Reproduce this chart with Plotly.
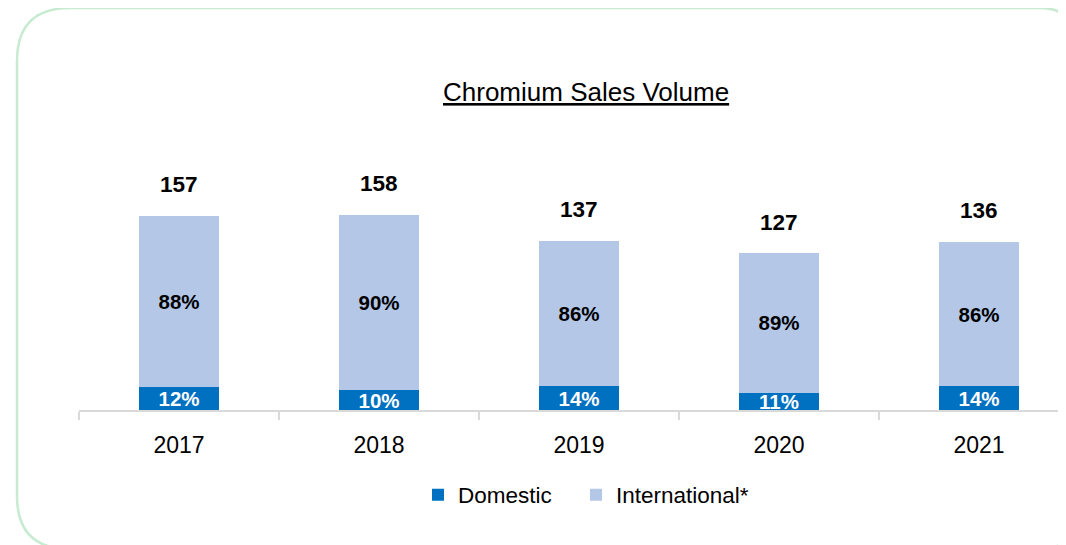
import plotly.graph_objects as go

years = ["2017", "2018", "2019", "2020", "2021"]
totals = [157, 158, 137, 127, 136]
domestic_pct = [12, 10, 14, 11, 14]
international_pct = [88, 90, 86, 89, 86]

domestic = [t * p / 100 for t, p in zip(totals, domestic_pct)]
international = [t * p / 100 for t, p in zip(totals, international_pct)]

# the page body adds an 8px offset; work in screen pixels and convert
OFF = 8
W, H = 1066 - OFF, 545 - OFF
PL, PR, PT, PB = 79, 1058, 130, 410  # plot area in screen pixels
ML, MR, MT, MB = PL - OFF, W - (PR - OFF), PT - OFF, H - (PB - OFF)
PW, PH = PR - PL, PB - PT

def px(x):
    return (x - PL) / PW

def py(y):
    return (PB - y) / PH

FONT = "Liberation Sans Narrow, Arial Narrow, Liberation Sans, Arial, sans-serif"
DARK = "#0070C0"
LIGHT = "#B4C7E7"

fig = go.Figure()
fig.add_trace(go.Bar(
    x=years, y=domestic, name="Domestic", marker=dict(color=DARK, line=dict(width=0)),
    text=[f"{p}%" for p in domestic_pct], textposition="inside", insidetextanchor="middle",
    textangle=0, constraintext="none", cliponaxis=True, legend="legend",
    textfont=dict(family=FONT, size=20.5, color="white", weight="bold"),
))
fig.add_trace(go.Bar(
    x=years, y=international, name="International*", marker=dict(color=LIGHT, line=dict(width=0)),
    text=[f"{p}%" for p in international_pct], textposition="inside", insidetextanchor="middle",
    textangle=0, constraintext="none", legend="legend2",
    textfont=dict(family=FONT, size=20.5, color="black", weight="bold"),
))

for i, t in enumerate(totals):
    fig.add_annotation(x=i, y=t, xref="x", yref="y", text=f"<b>{t}</b>", showarrow=False,
                       yanchor="middle", yshift=31,
                       font=dict(family=FONT, size=22.5, color="black"))

fig.add_annotation(xref="paper", yref="paper", x=px(586), y=py(92), text="<u>Chromium Sales Volume</u>",
                   showarrow=False, xanchor="center", yanchor="middle",
                   font=dict(family=FONT, size=26, color="black"))

# rounded border (left corners larger radius than right ones)
x0, x1, y0, y1, rl, rr = 17, 1074, 8, 549, 53, 34
path = (f"M {px(x0+rl)},{py(y0)} L {px(x1-rr)},{py(y0)} "
        f"Q {px(x1)},{py(y0)} {px(x1)},{py(y0+rr)} L {px(x1)},{py(y1-rr)} "
        f"Q {px(x1)},{py(y1)} {px(x1-rr)},{py(y1)} L {px(x0+rl)},{py(y1)} "
        f"Q {px(x0)},{py(y1)} {px(x0)},{py(y1-rl)} L {px(x0)},{py(y0+rl)} "
        f"Q {px(x0)},{py(y0)} {px(x0+rl)},{py(y0)} Z")
fig.add_shape(type="path", path=path, xref="paper", yref="paper",
              line=dict(color="#C6EBD0", width=2.5), layer="below")

legend_common = dict(orientation="h", y=py(495), xanchor="left", yanchor="middle",
                     font=dict(family=FONT, size=22.5, color="black"), itemwidth=30,
                     bgcolor="rgba(0,0,0,0)")

fig.update_layout(
    width=W, height=H, barmode="stack", bargap=0.6,
    margin=dict(l=ML, r=MR, t=MT, b=MB, autoexpand=False),
    paper_bgcolor="white", plot_bgcolor="white",
    font=dict(family=FONT, color="black"),
    showlegend=True,
    legend=dict(x=px(418), **legend_common),
    legend2=dict(x=px(576), **legend_common),
    xaxis=dict(type="category", range=[-0.5, -0.5 + PW / 200], tickson="boundaries",
               ticks="outside", ticklen=8, tickcolor="#D9D9D9", tickwidth=1.5,
               showline=True, linecolor="#D9D9D9", linewidth=1.5,
               showgrid=False, tickfont=dict(family=FONT, size=23, color="black"),
               ticklabelstandoff=14, fixedrange=True),
    yaxis=dict(range=[0, PH / 1.236], visible=False, showgrid=False, fixedrange=True),
)

fig.write_html("out.html")
